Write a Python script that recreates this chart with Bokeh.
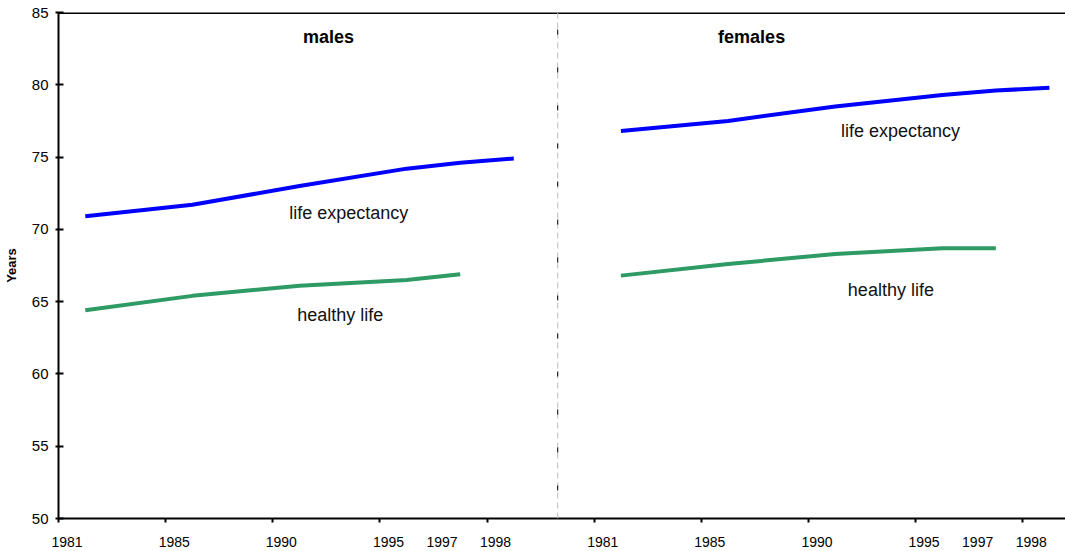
from bokeh.plotting import figure
from bokeh.models import Span, Label, FixedTicker, Range1d
from bokeh.embed import file_html
from bokeh.resources import INLINE

# ---- data ----
years = ["1981", "1985", "1990", "1995", "1997", "1998"]
male_life = [70.9, 71.7, 73.0, 74.2, 74.6, 74.9]
male_healthy = [64.4, 65.4, 66.1, 66.5, 66.9]
female_life = [76.8, 77.5, 78.5, 79.3, 79.6, 79.8]
female_healthy = [66.8, 67.6, 68.3, 68.7, 68.7]
panels = ["males", "females"]
y_ticks = [50, 55, 60, 65, 70, 75, 80, 85]

# ---- layout helpers ----
slot = {"1981": 0.0, "1985": 1.0, "1990": 2.0, "1995": 3.0, "1997": 3.5, "1998": 4.0}
PANEL_W = 5.0
DATA_OFF = 0.25
LABEL_OFF = 0.08
FONT = "Liberation Sans"


def xs(panel, n):
    return [panel * PANEL_W + slot[y] + DATA_OFF for y in years[:n]]


p = figure(width=1065, height=551, x_range=Range1d(0, 9.40), y_range=Range1d(50, 85),
           toolbar_location=None, output_backend="svg",
           min_border_left=58, min_border_right=0, min_border_top=12, min_border_bottom=33)
p.outline_line_color = None
p.xgrid.visible = False
p.ygrid.visible = False
p.background_fill_color = "white"
p.border_fill_color = "white"

blue = "#0000FF"
green = "#2E9A64"
p.line(xs(0, len(male_life)), male_life, line_color=blue, line_width=4)
p.line(xs(0, len(male_healthy)), male_healthy, line_color=green, line_width=4)
p.line(xs(1, len(female_life)), female_life, line_color=blue, line_width=4)
p.line(xs(1, len(female_healthy)), female_healthy, line_color=green, line_width=4)

# ---- x axis: year labels per panel, tick marks between categories ----
label_pos = []
overrides = {}
for pi in range(len(panels)):
    for y in years:
        pos = round(pi * PANEL_W + slot[y] + LABEL_OFF, 3)
        label_pos.append(pos)
        overrides[pos] = y
xa = p.xaxis[0]
xa.ticker = FixedTicker(ticks=label_pos, minor_ticks=list(range(10)))
xa.major_label_overrides = overrides
xa.major_tick_line_color = None
xa.minor_tick_line_color = "black"
xa.minor_tick_line_width = 2
xa.minor_tick_in = 0
xa.minor_tick_out = 4
xa.axis_line_width = 2
xa.axis_line_color = "black"
xa.major_label_standoff = 12
xa.major_label_text_font = FONT
xa.major_label_text_font_size = "14px"
xa.major_label_text_color = "black"

# ---- y axis ----
ya = p.yaxis[0]
ya.ticker = FixedTicker(ticks=y_ticks)
ya.minor_tick_line_color = None
ya.major_tick_in = 5
ya.major_tick_out = 3
ya.major_tick_line_width = 2
ya.axis_line_width = 2
ya.axis_line_color = "black"
ya.major_label_standoff = 7
ya.major_label_text_font = FONT
ya.major_label_text_font_size = "15px"
ya.major_label_text_color = "black"
ya.axis_label = "Years"
ya.axis_label_text_font = FONT
ya.axis_label_text_font_size = "13px"
ya.axis_label_text_font_style = "bold"
ya.axis_label_standoff = 10
ya.axis_label_text_color = "black"

# top border
p.add_layout(Span(location=85, dimension="width", line_color="black", line_width=3))

# panel divider
divider = PANEL_W - 0.34
p.add_layout(Span(location=divider, dimension="height", line_color="#bbbbbb",
                  line_width=1, line_dash="6 4"))
p.add_layout(Span(location=divider, dimension="height", line_color="black",
                  line_width=1, line_dash="0 17 5 16"))

# ---- texts ----
for name, x in zip(panels, [2.52, 6.47]):
    p.add_layout(Label(x=x, y=83.3, text=name, text_font=FONT, text_font_size="18px",
                       text_font_style="bold", text_align="center", text_baseline="middle",
                       text_color="black"))

for txt, x, y in [("life expectancy", 2.71, 71.1), ("healthy life", 2.63, 64.1),
                  ("life expectancy", 7.86, 76.8), ("healthy life", 7.77, 65.8)]:
    p.add_layout(Label(x=x, y=y, text=txt, text_font=FONT, text_font_size="18px",
                       text_align="center", text_baseline="middle", text_color="#111111"))

open("out.html", "w").write(file_html(p, INLINE))
